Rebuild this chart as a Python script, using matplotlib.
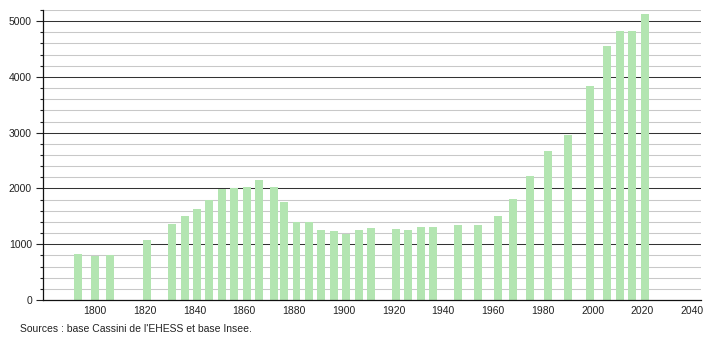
import matplotlib.pyplot as plt
import numpy as np

# 인구 데이터 (연도, 인구)
years = [1793, 1800, 1806, 1821, 1831, 1836, 1841, 1846, 1851, 1856, 1861, 1866,
         1872, 1876, 1881, 1886, 1891, 1896, 1901, 1906, 1911, 1921, 1926, 1931,
         1936, 1946, 1954, 1962, 1968, 1975, 1982, 1990, 1999, 2006, 2011, 2016, 2021]
population = [830, 790, 810, 1080, 1370, 1515, 1640, 1800, 1995, 2000, 2020, 2160,
              2020, 1765, 1400, 1400, 1260, 1245, 1185, 1260, 1295, 1265, 1260, 1315,
              1315, 1350, 1350, 1515, 1820, 2215, 2665, 2955, 3835, 4555, 4825, 4825, 5130]
x_ticks = [1800, 1820, 1840, 1860, 1880, 1900, 1920, 1940, 1960, 1980, 2000, 2020, 2040]
y_ticks = [0, 1000, 2000, 3000, 4000, 5000]
source = "Sources : base Cassini de l'EHESS et base Insee."

plt.rcParams['font.family'] = ['Liberation Sans', 'DejaVu Sans']

fig = plt.figure(figsize=(7.1, 3.4), dpi=100)
ax = fig.add_axes([43 / 710, 1 - 300 / 340, 658 / 710, 290 / 340])

# 격자선: 200 단위는 연한 회색, 1000 단위는 진한 색
for v in np.arange(200, 5201, 200):
    if v % 1000 == 0:
        ax.axhline(v, color='#333333', lw=0.75, zorder=1)
    else:
        ax.axhline(v, color='#c8c8c8', lw=0.75, zorder=1)

ax.bar(years, population, width=3.2, color='#b3e5b1', zorder=2)

ax.set_xlim(1779.1, 2043.6)
ax.set_ylim(0, 5200)
ax.set_xticks(x_ticks)
ax.set_yticks(y_ticks)
ax.set_yticks(np.arange(0, 5201, 200), minor=True)
ax.tick_params(axis='x', length=0, pad=4, labelsize=7.5, colors='#222222')
ax.tick_params(axis='y', which='major', length=5, width=0.8, pad=3, labelsize=7.5, colors='#222222')
ax.tick_params(axis='y', which='minor', length=2, width=0.8, colors='#222222')

for s in ['top', 'right']:
    ax.spines[s].set_visible(False)
ax.spines['left'].set_color('#111111')
ax.spines['bottom'].set_color('#111111')
ax.spines['left'].set_linewidth(0.9)
ax.spines['bottom'].set_linewidth(0.9)

fig.text(20 / 710, 1 - 329 / 340, source, fontsize=7.5, color='#222222', va='center')

fig.savefig('out.png', dpi=100)
